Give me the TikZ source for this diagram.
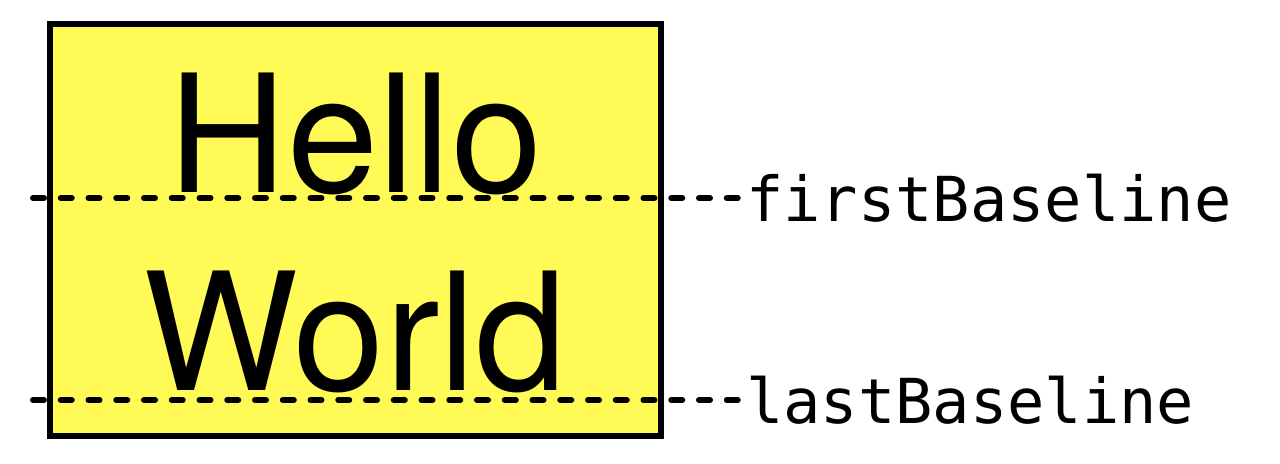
\documentclass[tikz,border=0pt]{standalone}
\usepackage{fontspec}
\setmainfont{TeX Gyre Heros}
\setmonofont{DejaVu Sans Mono}
\usetikzlibrary{positioning}
\definecolor{boxyellow}{RGB}{255,250,85}
\tikzset{
  word/.style={font=\fontsize{82}{82}\selectfont, inner sep=0pt, anchor=base},
  baseline line/.style={line width=3pt, line cap=round, dash pattern=on 5.5pt off 8.375pt},
  tag/.style={font=\ttfamily\fontsize{31}{31}\selectfont, inner sep=0pt, anchor=west},
}
\begin{document}
\begin{tikzpicture}[x=0.5pt, y=-0.5pt]
\useasboundingbox (0,0) rectangle (1280,463);

\coordinate (NW) at (50, 24);
\coordinate (SE) at (661, 436);

\coordinate (F0) at (33, 198);
\coordinate (F1) at (737.75, 198);
\coordinate (L0) at (33, 400);
\coordinate (L1) at (737.75, 400);

\draw[line width=3pt, fill=boxyellow] (NW) rectangle (SE);

\node[word] (hello) at (355.5, 192) {Hello};
\node[word] (world) at (355.5, 390) {World};

\draw[baseline line] (F0) -- (F1);
\draw[baseline line] (L0) -- (L1);

\node[tag, right=4pt of F1] (first) {firstBaseline};
\node[tag, right=4pt of L1] (last) {lastBaseline};

\end{tikzpicture}
\end{document}
